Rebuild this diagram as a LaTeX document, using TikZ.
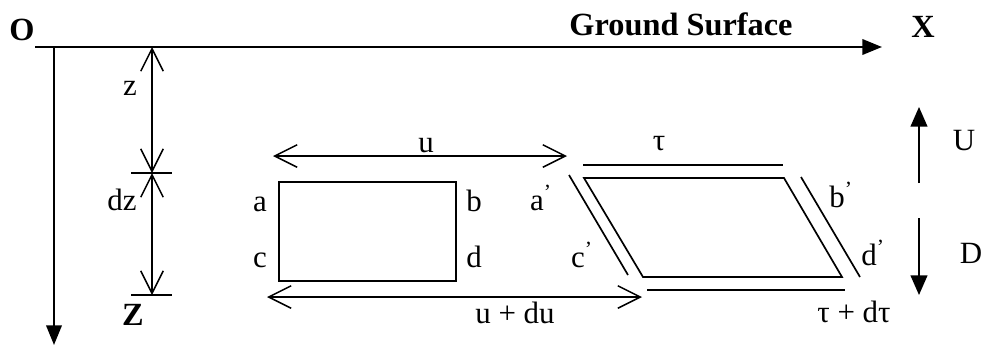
\documentclass[tikz,border=0pt]{standalone}
\usepackage{fontspec}
\setmainfont{Liberation Serif}
\usetikzlibrary{arrows.meta}

\begin{document}
\begin{tikzpicture}[
  x=0.025cm, y=-0.025cm,
  line width=1.2pt,
  axis/.style={line width=1.6pt, -{Triangle[length=14pt, width=11pt]}},
  updown/.style={line width=1.1pt, -{Triangle[length=14pt, width=12pt]}},
  dimarrow/.style={line width=1.1pt,
    {Straight Barb[length=16pt, width=16pt]}-{Straight Barb[length=16pt, width=16pt]}},
  lbl/.style={font=\fontsize{22}{26}\selectfont, inner sep=0pt, anchor=base},
  boldlbl/.style={lbl, font=\fontsize{23}{27}\selectfont\bfseries},
]

%% ─── 座標系 ────────────────────────────────────────────────
%%  単位 = 1px (0.025cm),  y は下向き
%%  地表面 y = 47,  要素 abcd は x = 279..456

\useasboundingbox (0,0) rectangle (982,349);

% ── 軸 ──────────────────────────────────────────────────────
\coordinate (gsL) at (35,47);
\coordinate (gsR) at (882,47);
\coordinate (axTop) at (54,47);
\coordinate (axBot) at (54,345);
\draw[axis] (gsL) -- (gsR);
\draw[axis] (axTop) -- (axBot);

\node[boldlbl] (lblO) at (22,40) {O};
\node[boldlbl] (lblGround) at (681,35) {Ground Surface};
\node[boldlbl] (lblX) at (923,37) {X};

% ── 深さ z, dz の寸法線 ─────────────────────────────────────
\coordinate (z0) at (152,47);
\coordinate (z1) at (152,173);
\coordinate (z2) at (152,295);
\draw[dimarrow] (z0) -- (z1);
\draw[dimarrow] (z1) -- (z2);
\draw (131,173) -- (172,173);
\draw (131,295) -- (172,295);

\node[lbl] (lblz) at (130,95) {z};
\node[lbl] (lbldz) at (122,210) {dz};
\node[boldlbl] (lblZ) at (133,325) {Z};

% ── 変形前の要素 abcd ────────────────────────────────────────
\coordinate (ra) at (279,182);
\coordinate (rd) at (456,281);
\draw (ra) rectangle (rd);

\node[lbl] (lbla) at (260,211) {a};
\node[lbl] (lblb) at (474,211) {b};
\node[lbl] (lblc) at (260,267) {c};
\node[lbl] (lbld) at (474,267) {d};

% ── 変位 u, u + du ───────────────────────────────────────────
\coordinate (uL) at (273,156);
\coordinate (uR) at (567,156);
\draw[dimarrow] (uL) -- (uR);
\node[lbl] (lblu) at (426,152) {u};

\coordinate (duL) at (267,297);
\coordinate (duR) at (642,297);
\draw[dimarrow] (duL) -- (duR);
\node[lbl] (lbldu) at (515,323) {u + du};

% ── 変形後の要素 a'b'c'd' ─────────────────────────────────────
\coordinate (pa) at (584,178);
\coordinate (pb) at (784,178);
\coordinate (pd) at (842,277);
\coordinate (pc) at (643,277);
\draw (pa) -- (pb) -- (pd) -- (pc) -- cycle;

% せん断応力 τ, τ + dτ
\draw (583,165) -- (783,165);
\draw (647,290) -- (845,290);
\node[lbl] (lbltau) at (659,150) {τ};
\node[lbl] (lbldtau) at (854,322) {τ + dτ};

% 側面の平行線
\draw (569,175) -- (628,275);
\draw (801,177) -- (860,277);

\node[lbl] (lblap) at (541,210) {a\textsuperscript{’}};
\node[lbl] (lblcp) at (582,267) {c\textsuperscript{’}};
\node[lbl] (lblbp) at (841,207) {b\textsuperscript{’}};
\node[lbl] (lbldp) at (873,265) {d\textsuperscript{’}};

% ── 上向き U / 下向き D ─────────────────────────────────────
\coordinate (uBase) at (919,183);
\coordinate (uTip) at (919,107);
\coordinate (dBase) at (919,218);
\coordinate (dTip) at (919,295);
\draw[updown] (uBase) -- (uTip);
\draw[updown] (dBase) -- (dTip);
\node[lbl] (lblU) at (964,150) {U};
\node[lbl] (lblD) at (971,263) {D};

\end{tikzpicture}
\end{document}
